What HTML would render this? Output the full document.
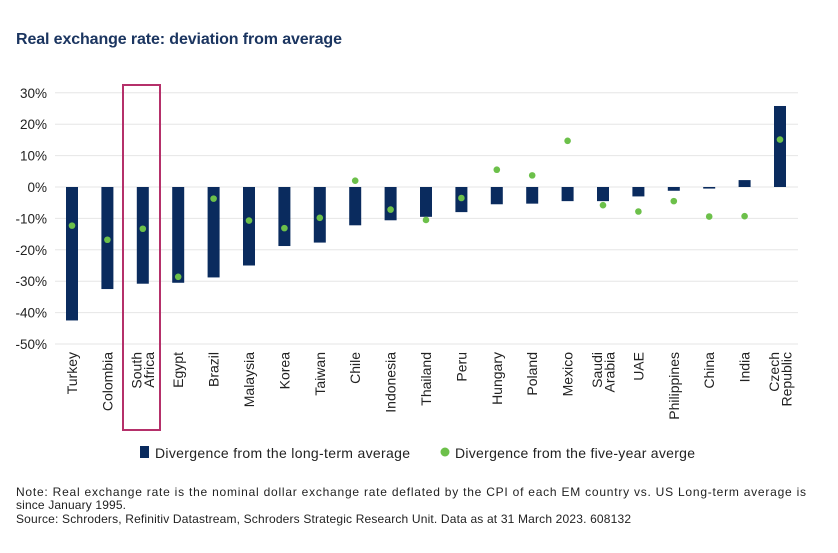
<!DOCTYPE html>
<html><head><meta charset="utf-8">
<style>
body{margin:0;background:#fff;font-family:"Liberation Sans",sans-serif;}
#wrap{position:relative;width:838px;height:553px;overflow:hidden;}
</style></head>
<body>
<div id="wrap">
<svg id="chart" width="838" height="553" xmlns="http://www.w3.org/2000/svg">
<text x="16" y="44" font-size="16" font-weight="bold" fill="#1b3560" textLength="326">Real exchange rate: deviation from average</text>
<g id="grid"></g><g id="bars"></g><g id="dots"></g><g id="xlabels"></g>
<rect x="123" y="85" width="37" height="345" fill="none" stroke="#b5306a" stroke-width="2"/>
<rect x="140" y="446" width="9" height="12" fill="#0a2b5e"/>
<text x="155" y="458" font-size="14" fill="#222" textLength="255">Divergence from the long-term average</text>
<circle cx="445" cy="452" r="4.5" fill="#6cc04a"/>
<text x="455" y="458" font-size="14" fill="#222" textLength="240">Divergence from the five-year averge</text>
<text x="16" y="496" font-size="12" fill="#222" textLength="790">Note: Real exchange rate is the nominal dollar exchange rate deflated by the CPI of each EM country vs. US Long-term average is</text>
<text x="16" y="509" font-size="12" fill="#222" textLength="110">since January 1995.</text>
<text x="16" y="523" font-size="12" fill="#222" textLength="615">Source: Schroders, Refinitiv Datastream, Schroders Strategic Research Unit. Data as at 31 March 2023. 608132</text>
</svg>
</div>
<script>
const categories=[["Turkey"],["Colombia"],["South","Africa"],["Egypt"],["Brazil"],["Malaysia"],["Korea"],["Taiwan"],["Chile"],["Indonesia"],["Thailand"],["Peru"],["Hungary"],["Poland"],["Mexico"],["Saudi","Arabia"],["UAE"],["Philippines"],["China"],["India"],["Czech","Republic"]];
const longTerm=[-42.5,-32.5,-30.8,-30.5,-28.8,-25,-18.8,-17.7,-12.2,-10.6,-9.5,-8,-5.5,-5.3,-4.5,-4.5,-3,-1.2,-0.5,2.2,25.8];
const fiveYear=[-12.3,-16.8,-13.3,-28.6,-3.7,-10.7,-13.1,-9.8,2,-7.2,-10.5,-3.5,5.5,3.7,14.7,-5.8,-7.8,-4.5,-9.4,-9.3,15.1];
const yTicks=[30,20,10,0,-10,-20,-30,-40,-50];
const NS="http://www.w3.org/2000/svg";
const y=v=>187-v*3.14;
const x=i=>72+i*35.4;
function mk(t,a,p){const e=document.createElementNS(NS,t);for(const k in a)e.setAttribute(k,a[k]);document.getElementById(p).appendChild(e);return e;}
yTicks.forEach(t=>{
 const l=mk('line',{x1:55,x2:798,y1:y(t),y2:y(t),stroke:'#e6e6e6','stroke-width':1},'grid');
 
 
 const tx=mk('text',{x:47,y:y(t)+5,'text-anchor':'end','font-size':13.5,fill:'#222'},'grid');
 tx.textContent=t+'%';
 
 
});
longTerm.forEach((v,i)=>{
 const r=mk('rect',{x:x(i)-6,y:Math.min(y(v),y(0)),width:12,height:Math.max(1,Math.abs(y(v)-y(0))),fill:'#0a2b5e'},'bars');
 
 
});
fiveYear.forEach((v,i)=>{
 const c=mk('circle',{cx:x(i),cy:y(v),r:3.3,fill:'#6cc04a'},'dots');
 
 
});
categories.forEach((lines,i)=>{
 const n=lines.length;
 lines.forEach((s,j)=>{
  const cx=x(i)+5+(j-(n-1)/2)*12.5;
  const t=mk('text',{x:cx,y:352,'text-anchor':'end','font-size':14,fill:'#222',transform:`rotate(-90 ${cx} 352)`},'xlabels');
  t.textContent=s;
  
  
 });
});
</script>
</body></html>
